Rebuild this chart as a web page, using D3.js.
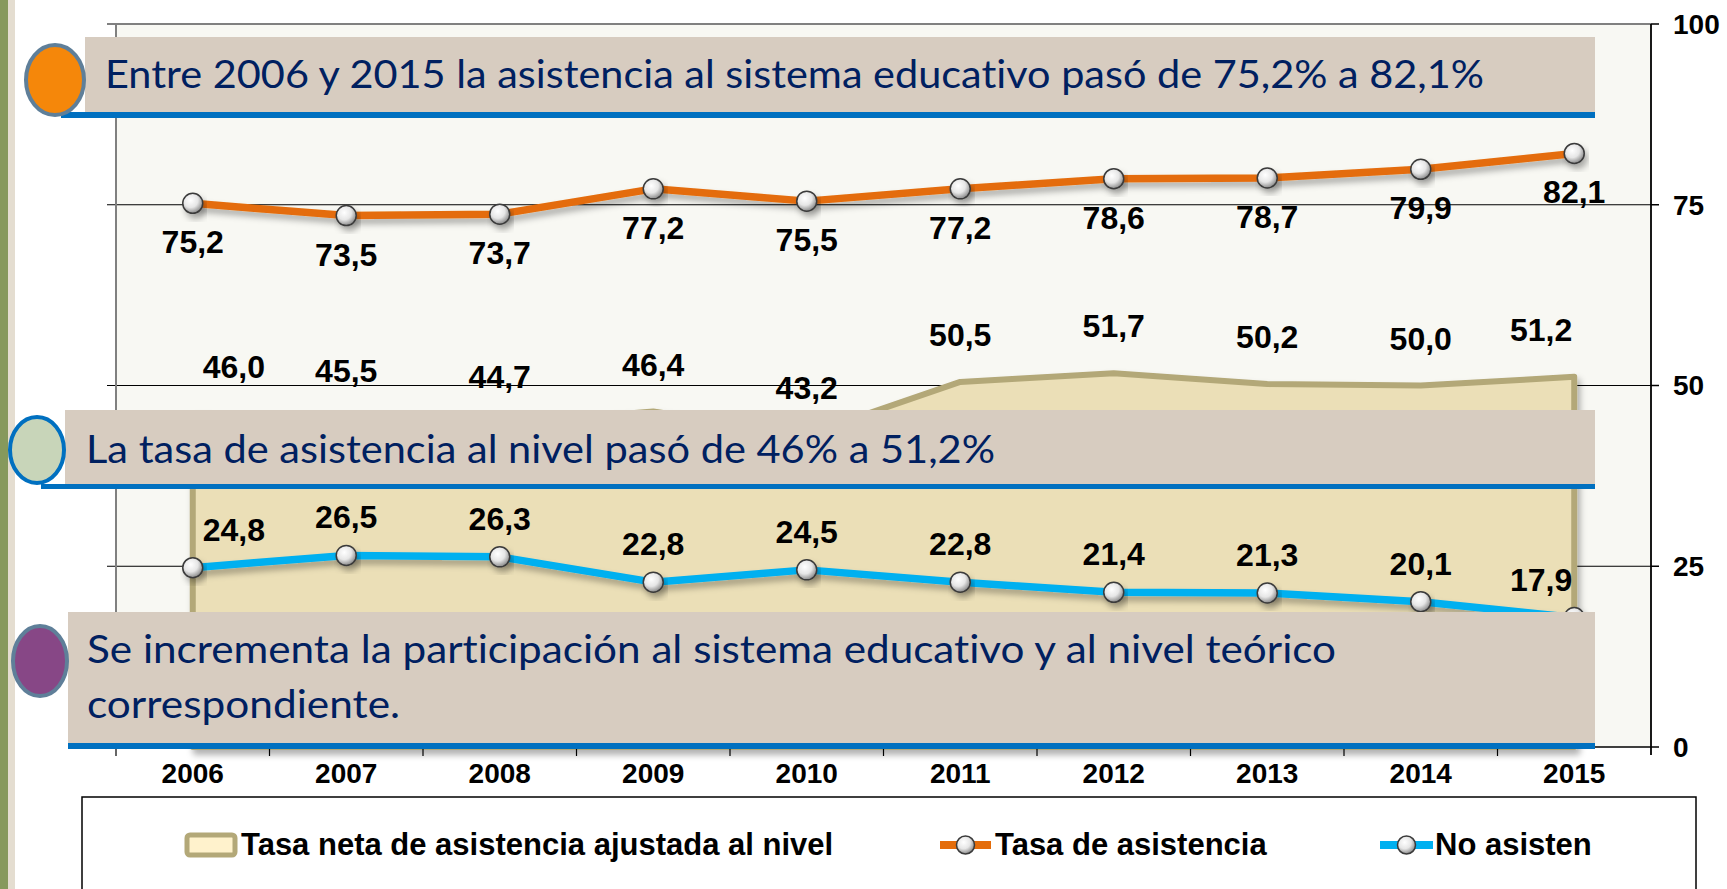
<!DOCTYPE html>
<html lang="es">
<head>
  <meta charset="utf-8" />
  <title>Tasa de asistencia 2006-2015</title>
  <style>
    html, body { margin: 0; padding: 0; background: #fff; }
    svg { display: block; }
    .num { font-family: "Liberation Sans", Arial, sans-serif; font-weight: bold; fill: #000; }
    .callout { font-family: Lato, "Open Sans", sans-serif; fill: #002060; font-variant-ligatures: none; }
  </style>
</head>
<body>
  <svg id="chart" width="1727" height="889"></svg>

  <script src="https://d3js.org/d3.v7.min.js"></script>
  <script>
    // data
    const years = ['2006', '2007', '2008', '2009', '2010', '2011', '2012', '2013', '2014', '2015'];
    const tasaNeta = [46.0, 45.5, 44.7, 46.4, 43.2, 50.5, 51.7, 50.2, 50.0, 51.2];
    const tasaAsistencia = [75.2, 73.5, 73.7, 77.2, 75.5, 77.2, 78.6, 78.7, 79.9, 82.1];
    const noAsisten = [24.8, 26.5, 26.3, 22.8, 24.5, 22.8, 21.4, 21.3, 20.1, 17.9];
    const yTicks = [0, 25, 50, 75, 100];
    const seriesNames = ['Tasa neta de asistencia ajustada al nivel', 'Tasa de asistencia', 'No asisten'];
    const notes = [
      'Entre 2006 y 2015 la asistencia al sistema educativo pasó de 75,2% a 82,1%',
      'La tasa de asistencia al nivel pasó de 46% a 51,2%',
      'Se incrementa la participación al sistema educativo y al nivel teórico',
      'correspondiente.'
    ];

    const fmt = v => d3.format('.1f')(v).replace('.', ',');

    const svg = d3.select('#chart');
    const plot = { left: 116, right: 1651, top: 24, bottom: 747 };

    const x = d3.scaleBand().domain(years).range([plot.left, plot.right]);
    const cx = d => x(d) + x.bandwidth() / 2;
    const y = d3.scaleLinear().domain([0, 100]).range([plot.bottom, plot.top]);

    // defs: shadow + marker gradient
    const defs = svg.append('defs');
    const sh = defs.append('filter').attr('id', 'shadow')
      .attr('x', '-10%').attr('y', '-20%').attr('width', '130%').attr('height', '160%');
    sh.append('feDropShadow').attr('dx', 3).attr('dy', 5).attr('stdDeviation', 3)
      .attr('flood-color', '#000').attr('flood-opacity', 0.3);
    const grad = defs.append('radialGradient').attr('id', 'ball')
      .attr('cx', '40%').attr('cy', '35%').attr('r', '65%');
    grad.append('stop').attr('offset', '0%').attr('stop-color', '#ffffff');
    grad.append('stop').attr('offset', '55%').attr('stop-color', '#e6e6e6');
    grad.append('stop').attr('offset', '100%').attr('stop-color', '#8c8c8c');

    // slide background strips
    svg.append('rect').attr('x', 0).attr('y', 0).attr('width', 8).attr('height', 889).attr('fill', '#86995c');
    svg.append('rect').attr('x', 8).attr('y', 0).attr('width', 7).attr('height', 889).attr('fill', '#e4ddd0');

    // plot area
    svg.append('rect')
      .attr('x', plot.left).attr('y', plot.top)
      .attr('width', plot.right - plot.left).attr('height', plot.bottom - plot.top)
      .attr('fill', '#f8f8f3');

    // gridlines
    svg.selectAll('line.grid')
      .data(yTicks.filter(t => t > 0 && t < 100))
      .enter().append('line')
      .attr('class', 'grid')
      .attr('x1', plot.left - 9).attr('x2', plot.right)
      .attr('y1', d => y(d)).attr('y2', d => y(d))
      .attr('stroke', '#000').attr('stroke-width', 1.2);
    svg.append('line')
      .attr('x1', plot.left - 9).attr('x2', plot.right)
      .attr('y1', y(100)).attr('y2', y(100))
      .attr('stroke', '#808080').attr('stroke-width', 2);
    svg.append('line')
      .attr('x1', plot.left).attr('x2', plot.left)
      .attr('y1', plot.top).attr('y2', plot.bottom)
      .attr('stroke', '#808080').attr('stroke-width', 2);

    // area series
    const area = d3.area()
      .x((d, i) => cx(years[i]))
      .y0(y(0))
      .y1(d => y(d));
    svg.append('path')
      .datum(tasaNeta)
      .attr('d', area)
      .attr('fill', '#ebdfb7')
      .attr('stroke', '#b3a878')
      .attr('stroke-width', 6)
      .attr('stroke-linejoin', 'round')
      .attr('filter', 'url(#shadow)');

    // line series
    function drawLine(values, color) {
      const line = d3.line().x((d, i) => cx(years[i])).y(d => y(d));
      svg.append('path')
        .datum(values)
        .attr('d', line)
        .attr('fill', 'none')
        .attr('stroke', color)
        .attr('stroke-width', 7.5)
        .attr('stroke-linejoin', 'round')
        .attr('filter', 'url(#shadow)');
      svg.append('g').selectAll('circle')
        .data(values)
        .enter().append('circle')
        .attr('cx', (d, i) => cx(years[i]))
        .attr('cy', d => y(d))
        .attr('r', 10)
        .attr('fill', 'url(#ball)')
        .attr('stroke', '#3a3a3a')
        .attr('stroke-width', 1.5)
        .attr('filter', 'url(#shadow)');
    }
    drawLine(tasaAsistencia, '#e46c0a');
    drawLine(noAsisten, '#00b0f0');

    // right axis
    svg.append('line')
      .attr('x1', plot.right).attr('x2', plot.right)
      .attr('y1', plot.top).attr('y2', plot.bottom + 8)
      .attr('stroke', '#000').attr('stroke-width', 1.8);
    svg.selectAll('line.ytick')
      .data(yTicks)
      .enter().append('line')
      .attr('class', 'ytick')
      .attr('x1', plot.right).attr('x2', plot.right + 8)
      .attr('y1', d => y(d)).attr('y2', d => y(d))
      .attr('stroke', '#000').attr('stroke-width', 1.5);
    svg.selectAll('text.ylab')
      .data(yTicks)
      .enter().append('text')
      .attr('class', 'num ylab')
      .attr('x', plot.right + 22)
      .attr('y', d => y(d))
      .attr('dy', '0.35em')
      .attr('font-size', 28)
      .text(d => d);

    // x axis
    svg.append('line')
      .attr('x1', plot.left).attr('x2', plot.right)
      .attr('y1', plot.bottom).attr('y2', plot.bottom)
      .attr('stroke', '#000').attr('stroke-width', 1.5);
    svg.selectAll('line.xtick')
      .data(years)
      .enter().append('line')
      .attr('class', 'xtick')
      .attr('x1', d => x(d)).attr('x2', d => x(d))
      .attr('y1', plot.bottom).attr('y2', plot.bottom + 9)
      .attr('stroke', '#000').attr('stroke-width', 1.2);
    svg.selectAll('text.xlab')
      .data(years)
      .enter().append('text')
      .attr('class', 'num xlab')
      .attr('x', d => cx(d))
      .attr('y', plot.bottom + 36)
      .attr('text-anchor', 'middle')
      .attr('font-size', 28)
      .text(d => d);

    // data labels
    function labels(values, dy, edgeShift) {
      const n = values.length;
      svg.append('g').selectAll('text')
        .data(values)
        .enter().append('text')
        .attr('class', 'num')
        .attr('font-size', 32)
        .attr('x', (d, i) => cx(years[i]) + (edgeShift ? (i === 0 ? 10 : i === n - 1 ? -2 : 0) : 0))
        .attr('y', d => y(d) + dy)
        .attr('text-anchor', (d, i) => edgeShift ? (i === 0 ? 'start' : i === n - 1 ? 'end' : 'middle') : 'middle')
        .text(d => fmt(d));
    }
    labels(tasaAsistencia, 50, false);
    labels(tasaNeta, -36, true);
    labels(noAsisten, -27, true);

    // callout boxes
    function callout(box, bar, dot, lines) {
      svg.append('rect').attr('x', box[0]).attr('y', box[1]).attr('width', box[2] - box[0]).attr('height', box[3] - box[1])
        .attr('fill', '#d7ccc0');
      svg.append('rect').attr('x', bar[0]).attr('y', box[3]).attr('width', box[2] - bar[0]).attr('height', bar[1])
        .attr('fill', '#0070c0');
      svg.append('ellipse').attr('cx', dot.cx).attr('cy', dot.cy).attr('rx', dot.rx).attr('ry', dot.ry)
        .attr('fill', dot.fill).attr('stroke', dot.stroke).attr('stroke-width', 4);
      lines.forEach(l => {
        svg.append('text').attr('class', 'callout')
          .attr('x', l.x).attr('y', l.y)
          .attr('font-size', 39)
          .attr('textLength', l.w).attr('lengthAdjust', 'spacingAndGlyphs')
          .text(l.text);
      });
    }
    callout([85, 37, 1595, 112], [61, 6],
      { cx: 55, cy: 80, rx: 29, ry: 35, fill: '#f5870a', stroke: '#5f7f99' },
      [{ x: 105, y: 88, w: 1379, text: notes[0] }]);
    callout([65, 410, 1595, 484], [41, 5],
      { cx: 37, cy: 450, rx: 27, ry: 33, fill: '#c8d5b9', stroke: '#0070c0' },
      [{ x: 86, y: 463, w: 909, text: notes[1] }]);
    callout([68, 612, 1595, 743], [68, 6],
      { cx: 40, cy: 661, rx: 27, ry: 35, fill: '#874786', stroke: '#5f7f99' },
      [{ x: 87, y: 663, w: 1249, text: notes[2] }, { x: 87, y: 718, w: 313, text: notes[3] }]);

    // legend
    svg.append('rect').attr('x', 82).attr('y', 797).attr('width', 1614).attr('height', 120)
      .attr('fill', '#fff').attr('stroke', '#000').attr('stroke-width', 1.5);
    const leg = svg.append('g');
    leg.append('rect').attr('x', 187).attr('y', 835).attr('width', 48).attr('height', 20).attr('rx', 3)
      .attr('fill', '#fff2cc').attr('stroke', '#b3a878').attr('stroke-width', 5);
    const legLines = [
      { x1: 940, x2: 991, color: '#e46c0a', name: seriesNames[1] },
      { x1: 1380, x2: 1433, color: '#00b0f0', name: seriesNames[2] }
    ];
    legLines.forEach(l => {
      leg.append('line').attr('x1', l.x1).attr('x2', l.x2).attr('y1', 845).attr('y2', 845)
        .attr('stroke', l.color).attr('stroke-width', 8);
      leg.append('circle').attr('cx', (l.x1 + l.x2) / 2).attr('cy', 845).attr('r', 9)
        .attr('fill', 'url(#ball)').attr('stroke', '#3a3a3a').attr('stroke-width', 1.5);
    });
    leg.selectAll('text')
      .data([{ x: 241, t: seriesNames[0] }, { x: 995, t: seriesNames[1] }, { x: 1435, t: seriesNames[2] }])
      .enter().append('text')
      .attr('class', 'num')
      .attr('x', d => d.x).attr('y', 855)
      .attr('font-size', 31)
      .text(d => d.t);
  </script>
</body>
</html>
